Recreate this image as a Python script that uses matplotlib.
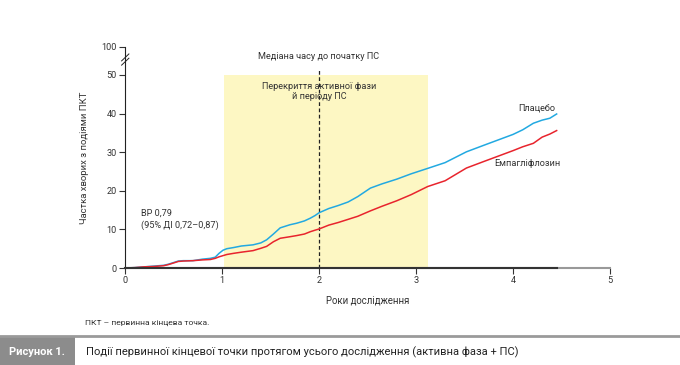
import matplotlib.pyplot as plt
from matplotlib.patches import Rectangle
from matplotlib.lines import Line2D

plt.rcParams['font.family'] = ['Roboto', 'DejaVu Sans']

# cumulative incidence curves
years = [0, 0.1, 0.2, 0.3, 0.4, 0.45, 0.5, 0.55, 0.6, 0.7, 0.8, 0.88, 0.93, 0.97, 1.01, 1.05,
         1.12, 1.2, 1.32, 1.4, 1.46, 1.53, 1.6, 1.7, 1.77, 1.85, 1.91, 1.96, 2.0, 2.1, 2.2,
         2.3, 2.4, 2.53, 2.65, 2.8, 2.95, 3.12, 3.3, 3.52, 3.7, 3.85, 4.0, 4.1, 4.21, 4.3,
         4.38, 4.45]
placebo = [0, 0.1, 0.3, 0.5, 0.7, 1.0, 1.4, 1.8, 1.9, 1.9, 2.3, 2.5, 2.8, 3.8, 4.6, 5.0,
           5.3, 5.7, 6.0, 6.5, 7.3, 8.8, 10.4, 11.2, 11.6, 12.2, 12.9, 13.6, 14.3, 15.4, 16.2,
           17.1, 18.5, 20.7, 21.8, 23.0, 24.4, 25.8, 27.3, 30.1, 31.8, 33.2, 34.6, 35.8, 37.5,
           38.3, 38.8, 39.9]
empa = [0, 0.1, 0.3, 0.4, 0.6, 0.9, 1.3, 1.7, 1.8, 1.9, 2.1, 2.2, 2.5, 2.9, 3.2, 3.5,
        3.8, 4.1, 4.5, 5.1, 5.6, 6.8, 7.7, 8.1, 8.4, 8.8, 9.4, 9.8, 10.1, 11.1, 11.8,
        12.6, 13.4, 14.8, 16.0, 17.4, 19.0, 21.1, 22.6, 25.9, 27.6, 29.0, 30.4, 31.4, 32.3,
        33.9, 34.7, 35.6]

yticks = [0, 10, 20, 30, 40, 50]
xticks = [0, 1, 2, 3, 4, 5]
y_top = 57.25  # where the "100" tick sits after the axis break

BLUE = '#22a9e1'
RED = '#e8242d'
TXT = '#333333'
FS = 6.6

fig = plt.figure(figsize=(6.8, 3.65), dpi=100)
ax = fig.add_axes([125 / 680, 97 / 365, 485 / 680, 221 / 365])
ax.set_xlim(0, 5)
ax.set_ylim(0, y_top)

# overlap of active phase and follow-up
ax.add_patch(Rectangle((1.02, 0), 2.1, 50, facecolor='#fdf7c3', edgecolor='none', zorder=0))
ax.plot([2, 2], [0, 51.3], color='#222222', lw=0.9, ls=(0, (3, 2)), zorder=1)

ax.plot(years, placebo, color=BLUE, lw=1.1, zorder=3)
ax.plot(years, empa, color=RED, lw=1.1, zorder=3)

for s in ['top', 'right']:
    ax.spines[s].set_visible(False)
ax.spines['left'].set_color('#222222')
ax.spines['bottom'].set_color('#999999')
ax.spines['bottom'].set_linewidth(1.5)
ax.plot([0, 4.45], [0, 0], color='#333333', lw=1.5, clip_on=False, zorder=4)

ax.set_xticks(xticks)
ax.set_xticklabels([str(v) for v in xticks])
ax.set_yticks(yticks + [y_top])
ax.set_yticklabels([str(v) for v in yticks] + ['100'])
ax.tick_params(axis='both', labelsize=FS, colors=TXT, length=4, width=0.8, pad=2)

# axis break marks
for dy in (-0.55, 0.55):
    ax.add_line(Line2D([-0.035, 0.04], [54.0 + dy - 0.9, 54.0 + dy + 0.9], color='#222222',
                       lw=0.7, clip_on=False))

ax.set_xlabel('Роки дослідження', fontsize=6.9, color=TXT, labelpad=7)
ax.set_ylabel('Частка хворих з подіями ПКТ', fontsize=6.8, color=TXT, labelpad=9)

ax.text(2, 54.7, 'Медіана часу до початку ПС', fontsize=FS, color=TXT, ha='center', va='center')
ax.text(2, 48.2, 'Перекриття активної фази\nй періоду ПС', fontsize=FS, color=TXT,
        ha='center', va='top', linespacing=1.15)
ax.text(4.44, 41.4, 'Плацебо', fontsize=FS, color=TXT, ha='right', va='center')
ax.text(4.49, 27.2, 'Емпагліфлозин', fontsize=FS, color=TXT, ha='right', va='center')
ax.text(0.17, 12.6, 'ВР 0,79\n(95% ДІ 0,72–0,87)', fontsize=FS, color=TXT, ha='left',
        va='center', linespacing=1.3)

# footnote and caption bar
fig.text(85 / 680, 1 - 323 / 365, 'ПКТ – первинна кінцева точка.', fontsize=6.1, color=TXT,
         va='center')
fig.add_artist(Line2D([0, 1], [1 - 335.5 / 365] * 2, color='#9a9a9a', lw=2,
                      transform=fig.transFigure))
fig.add_artist(Rectangle((0, 0), 75 / 680, 1 - 337 / 365, facecolor='#8c8c8c',
                         edgecolor='none', transform=fig.transFigure))
fig.text(37 / 680, 1 - 352 / 365, 'Рисунок 1.', fontsize=8, color='white',
         fontweight='bold', ha='center', va='center')
fig.text(86 / 680, 1 - 352 / 365,
         'Події первинної кінцевої точки протягом усього дослідження (активна фаза + ПС)',
         fontsize=8.0, color='#222222', va='center')

fig.savefig('out.png', dpi=100)
